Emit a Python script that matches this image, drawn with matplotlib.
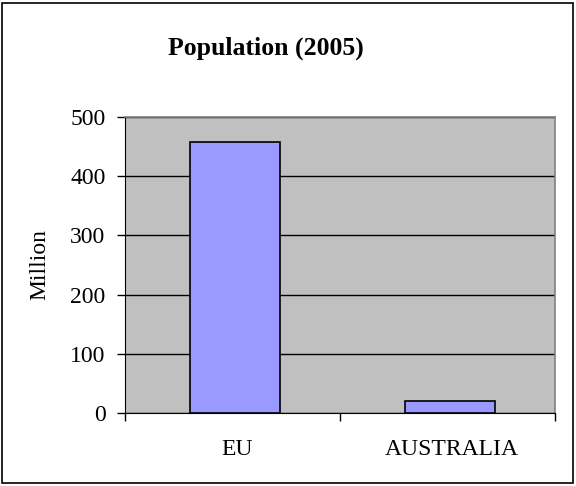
import matplotlib
matplotlib.use('Agg')
import matplotlib.pyplot as plt
import numpy as np
from matplotlib.patches import Rectangle

categories = ['EU', 'AUSTRALIA']
population = [458, 20]
yticks = [0, 100, 200, 300, 400, 500]

plt.rcParams['font.family'] = ['Liberation Serif', 'DejaVu Serif']

fig = plt.figure(figsize=(5.76, 4.86), dpi=100)
ax = fig.add_axes([125/576, 73/486, 430/576, 296/486])

# outer chart border
fig.patches.append(Rectangle((2/576, 3/486), 571/576, 480/486, transform=fig.transFigure,
                             fill=False, edgecolor='black', linewidth=1.2))

x = np.arange(len(categories))
ax.set_facecolor('#C0C0C0')
ax.bar(x + 0.01, population, width=0.42, color='#9999FF', edgecolor='black', linewidth=1.2, zorder=3)

ax.set_xlim(-0.5, 1.5)
ax.set_ylim(0, 500)
ax.set_yticks(yticks)
ax.tick_params(axis='y', labelsize=17, length=6, width=1, direction='out', pad=8)
ax.yaxis.grid(True, color='black', linewidth=1, zorder=1)
ax.set_axisbelow(True)

# category separators as ticks, labels at centres
ax.set_xticks([-0.5, 0.5, 1.5])
ax.set_xticklabels([])
ax.set_xticks(x + 0.02, minor=True)
ax.set_xticklabels(categories, minor=True, fontsize=17)
ax.tick_params(axis='x', which='major', length=6, width=1, direction='out')
ax.tick_params(axis='x', which='minor', length=0, pad=19)

for side in ['top', 'right']:
    ax.spines[side].set_color('#808080')
    ax.spines[side].set_linewidth(1.2)
ax.spines['left'].set_color('black')
ax.spines['bottom'].set_color('black')

ax.set_ylabel('Million', fontsize=17, labelpad=14)
fig.text(266/576, 1 - 48/486, 'Population (2005)', fontsize=18.5, fontweight='bold',
         ha='center', va='center')

fig.savefig('out.png', dpi=100)
